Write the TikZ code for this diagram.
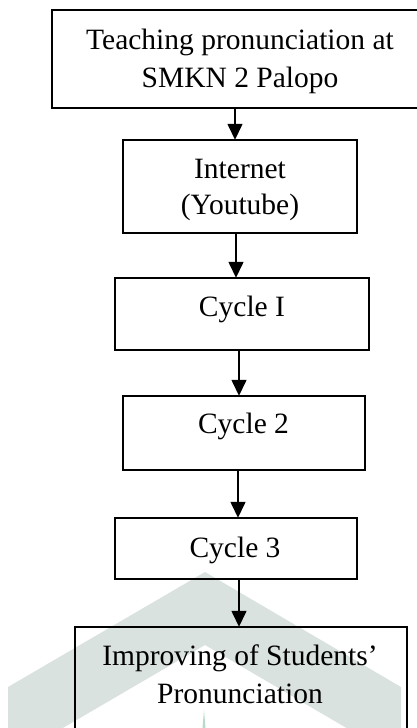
\documentclass[tikz,border=0pt]{standalone}
\usepackage{fontspec}
\setmainfont{Liberation Serif}
\usetikzlibrary{arrows.meta}
\definecolor{wmgray}{HTML}{DAE2DF}
\definecolor{wmgreen}{HTML}{B9DCC8}
\tikzset{
  box/.style={draw, line width=1.4pt, rectangle, inner sep=0pt},
  txt/.style={anchor=base, inner sep=0pt, font=\fontsize{29.5pt}{35pt}\selectfont},
  arr/.style={line width=1.4pt, -{Triangle[length=16pt, width=15pt]}, shorten >=-0.5pt}
}
\begin{document}
\begin{tikzpicture}[x=1pt, y=-1pt]
\useasboundingbox (0,0) rectangle (417,728);
\clip (0,0) rectangle (417,728);

% background chevron mark
\fill[wmgray] (8,687) -- (205,572) -- (401,687) -- (401,760) -- (205,645) -- (8,760) -- cycle;
\fill[wmgreen] (202.5,728) -- (204,710) -- (205.5,728) -- cycle;

% boxes
\node[box, minimum width=376pt, minimum height=98pt] (top) at (240,59) {};
\node[box, minimum width=234pt, minimum height=93pt] (int) at (240,186.5) {};
\node[box, minimum width=254pt, minimum height=72pt] (c1) at (242,314) {};
\node[box, minimum width=242pt, minimum height=74pt] (c2) at (244,433) {};
\node[box, minimum width=242pt, minimum height=61pt] (c3) at (236,548.5) {};
\node[box, minimum width=332pt, minimum height=140pt] (imp) at (241,697) {};

% labels
\node[txt] (t1) at (240,49.5) {Teaching pronunciation at};
\node[txt] (t2) at (240,87) {SMKN 2 Palopo};
\node[txt] (t3) at (240,178) {Internet};
\node[txt] (t4) at (240,214) {(Youtube)};
\node[txt] (t5) at (242,316) {Cycle I};
\node[txt] (t6) at (243.5,433) {Cycle 2};
\node[txt] (t7) at (235,557) {Cycle 3};
\node[txt] (t8) at (240,665) {Improving of Students’};
\node[txt] (t9) at (240,703) {Pronunciation};

% connector columns
\coordinate (xa) at (235,0);
\coordinate (xb) at (236,0);
\coordinate (xc) at (239,0);
\coordinate (xd) at (238,0);
\coordinate (xe) at (239,0);

\draw[arr] (top.south -| xa) -- (int.north -| xa);
\draw[arr] (int.south -| xb) -- (c1.north -| xb);
\draw[arr] (c1.south -| xc) -- (c2.north -| xc);
\draw[arr] (c2.south -| xd) -- (c3.north -| xd);
\draw[arr] (c3.south -| xe) -- (imp.north -| xe);
\end{tikzpicture}
\end{document}
